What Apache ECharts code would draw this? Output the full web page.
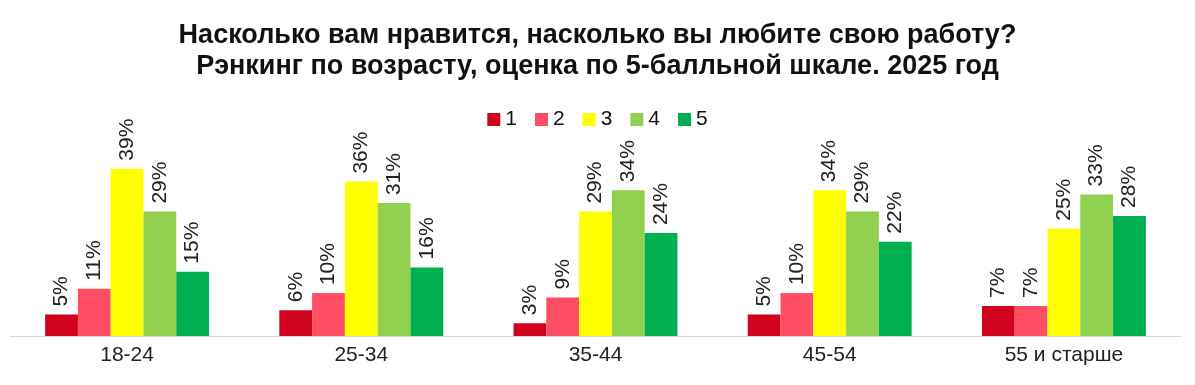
<!DOCTYPE html>
<html><head><meta charset="utf-8">
<script src="https://cdn.jsdelivr.net/npm/echarts@6/dist/echarts.min.js"></script>
<style>html,body{margin:0;padding:0;background:#fff}#c{width:1195px;height:385px}</style>
</head><body><div id="c"></div>
<script>
const titleLines = ["Насколько вам нравится, насколько вы любите свою работу?", "Рэнкинг по возрасту, оценка по 5-балльной шкале. 2025 год"];
const categories = ["18-24", "25-34", "35-44", "45-54", "55 и старше"];
const seriesNames = ["1", "2", "3", "4", "5"];
const s1 = [5, 6, 3, 5, 7];
const s2 = [11, 10, 9, 10, 7];
const s3 = [39, 36, 29, 34, 25];
const s4 = [29, 31, 34, 29, 33];
const s5 = [15, 16, 24, 22, 28];
const colors = ["#D0021E", "#FF4D63", "#FFFF00", "#92D050", "#00B050"];
const values = [s1, s2, s3, s4, s5];

const chart = echarts.init(document.getElementById('c'));
chart.setOption({
  animation: false,
  title: {
    text: titleLines.join("\n"),
    left: 'center', top: 15,
    textStyle: {fontFamily: 'Liberation Sans', fontWeight: 'bold', fontSize: 27, lineHeight: 31, color: '#111'}
  },
  legend: {
    data: seriesNames, top: 104, left: 'center', itemWidth: 13, itemHeight: 13, itemGap: 18,
    icon: 'rect',
    textStyle: {fontFamily: 'Liberation Sans', fontSize: 21, color: '#111'}
  },
  grid: {left: 10, right: 14, top: 143, bottom: 49, containLabel: false},
  xAxis: {
    type: 'category', data: categories,
    axisLine: {lineStyle: {color: '#D9D9D9', width: 1}},
    axisTick: {show: false},
    axisLabel: {fontFamily: 'Liberation Sans', fontSize: 21, color: '#222', margin: 9}
  },
  yAxis: {type: 'value', min: 0, max: 45, show: false, splitLine: {show: false}},
  series: values.map((v, i) => ({
    name: seriesNames[i], type: 'bar', data: v,
    barGap: '0%', barCategoryGap: '30%',
    itemStyle: {color: colors[i]},
    label: {show: true, position: 'top', rotate: 90, align: 'left', verticalAlign: 'middle', distance: 8,
      formatter: '{c}%', fontFamily: 'Liberation Sans', fontSize: 21, color: '#222'}
  }))
});
</script></body></html>
